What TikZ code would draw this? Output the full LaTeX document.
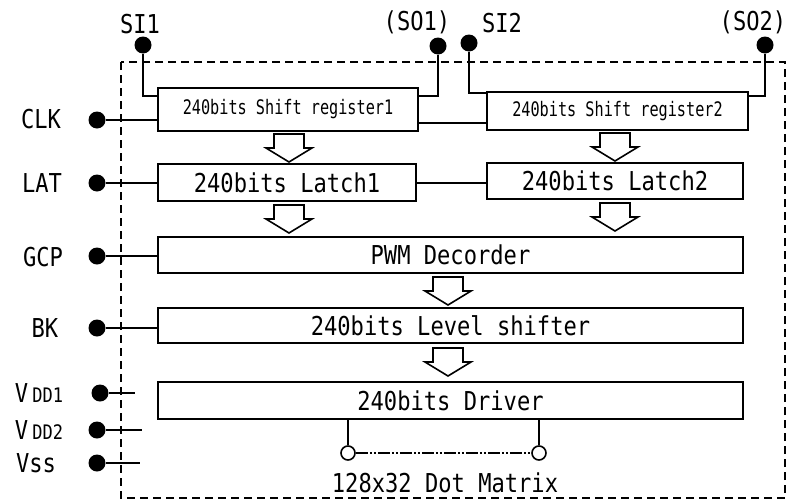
\documentclass[tikz,border=0pt]{standalone}
\usepackage{fontspec}
\setmonofont[FakeStretch=0.85]{DejaVu Sans Mono}
\newfontfamily\srfont[FakeStretch=0.76]{DejaVu Sans Mono}
\usetikzlibrary{calc}
\tikzset{
  blk/.style={draw,line width=2pt,inner sep=0pt,font=\ttfamily\fontsize{26}{28}\selectfont},
  smallblk/.style={blk,font=\srfont\fontsize{20}{22}\selectfont},
  pin/.style={circle,fill,inner sep=0pt,minimum size=17pt},
  pinlbl/.style={inner sep=0pt,font=\ttfamily\fontsize{26}{28}\selectfont},
  wire/.style={line width=2pt},
  port/.style={circle,draw,line width=1.6pt,fill=white,inner sep=0pt,minimum size=14pt}
}
\begin{document}
\begin{tikzpicture}[x=1pt,y=-1pt]
    \useasboundingbox (0,0) rectangle (787,501);
    \draw[line width=1.8pt,dash pattern=on 8pt off 5pt] (121,62) rectangle (785,498);
    \node[smallblk,minimum width=260pt,minimum height=43pt] (sr1) at (288,109.5) {240bits Shift register1};
    \node[smallblk,minimum width=261pt,minimum height=38pt] (sr2) at (617.5,111) {240bits Shift register2};
    \node[blk,minimum width=258pt,minimum height=37pt] (lat1) at (287,182.5) {240bits Latch1};
    \node[blk,minimum width=256pt,minimum height=36pt] (lat2) at (615,181) {240bits Latch2};
    \node[blk,minimum width=585pt,minimum height=36pt] (pwm) at (450.5,255) {PWM Decorder};
    \node[blk,minimum width=585pt,minimum height=35pt] (ls) at (450.5,325.5) {240bits Level shifter};
    \node[blk,minimum width=585pt,minimum height=37pt] (drv) at (450.5,400.5) {240bits Driver};
    \foreach \ax/\ay in {289/134,289/205,615/133,615/203,448/277,448/348}
      \draw[line width=1.6pt,fill=white] (\ax-15,\ay) -- (\ax+15,\ay) -- (\ax+15,\ay+14) -- (\ax+23,\ay+14)
        -- (\ax,\ay+28) -- (\ax-23,\ay+14) -- (\ax-15,\ay+14) -- cycle;
    \node[pin] (si1) at (143,45) {};
    \node[pin] (so1) at (438,46) {};
    \node[pin] (si2) at (469,43) {};
    \node[pin] (so2) at (765,45) {};
    \node[pinlbl] (si1lbl) at (140,24) {SI1};
    \node[pinlbl] (so1lbl) at (417,22) {(SO1)};
    \node[pinlbl] (si2lbl) at (502,23) {SI2};
    \node[pinlbl] (so2lbl) at (753,22) {(SO2)};
    \draw[wire] (si1) |- ([yshift=-9pt]sr1.north west);
    \draw[wire] (so1) |- ([yshift=-9pt]sr1.north east);
    \draw[wire] (si2) |- ([yshift=-2pt]sr2.north west);
    \draw[wire] (so2) |- ([yshift=-5pt]sr2.north east);
    \node[pin] (clk) at (97,120) {};
    \node[pin] (lat) at (97,183) {};
    \node[pin] (gcp) at (97,256) {};
    \node[pin] (bk) at (97,328) {};
    \node[pin] (vdd1) at (100,393) {};
    \node[pin] (vdd2) at (97,430) {};
    \node[pin] (vss) at (97,463) {};
    \node[pinlbl] (clklbl) at (41,119) {CLK};
    \node[pinlbl] (latlbl) at (42,183) {LAT};
    \node[pinlbl] (gcplbl) at (43,257) {GCP};
    \node[pinlbl] (bklbl) at (45,328) {BK};
    \node[pinlbl] (vdd1lbl) at (39,393) {V\,{\fontsize{20}{22}\selectfont DD1}};
    \node[pinlbl] (vdd2lbl) at (39,430) {V\,{\fontsize{20}{22}\selectfont DD2}};
    \node[pinlbl] (vsslbl) at (36,463) {Vss};
    \draw[wire] (clk) -- (clk -| sr1.west);
    \draw[wire] ([yshift=9pt]sr1.south east) -- ([yshift=9pt]sr1.south east -| sr2.west);
    \draw[wire] (lat) -- (lat -| lat1.west);
    \draw[wire] (lat1.east) -- (lat1.east -| lat2.west);
    \draw[wire] (gcp) -- (gcp -| pwm.west);
    \draw[wire] (bk) -- (bk -| ls.west);
    \draw[wire] (vdd1) -- ++(35,0);
    \draw[wire] (vdd2) -- ++(45,0);
    \draw[wire] (vss) -- ++(43,0);
    \node[port] (dm1) at (348,453) {};
    \node[port] (dm2) at (539,453) {};
    \draw[wire] (dm1 |- drv.south) -- (dm1);
    \draw[wire] (dm2 |- drv.south) -- (dm2);
    \draw[line width=1.6pt,dash pattern=on 12pt off 2pt on 2pt off 2pt on 2pt off 2pt] (dm1) -- (dm2);
    \node[pinlbl] (dmlbl) at (445,483) {128x32 Dot Matrix};
\end{tikzpicture}
\end{document}
